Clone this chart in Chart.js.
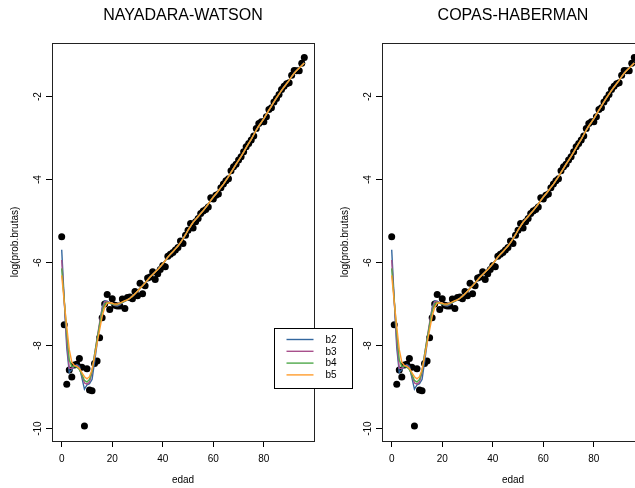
<!DOCTYPE html>
<html><head><meta charset="utf-8">
<script src="https://cdn.jsdelivr.net/npm/chart.js@4.4.0/dist/chart.umd.min.js"></script>
<style>
html,body{margin:0;padding:0;background:#fff;overflow:hidden;width:635px;height:488px;}
#wrap{position:relative;width:635px;height:488px;overflow:hidden;background:#fff;}
canvas{position:absolute;top:0;}
#c1{left:0;z-index:2;}
#c2{left:330px;z-index:1;}
</style></head><body>
<div id="wrap"><canvas id="c1" width="366" height="488"></canvas><canvas id="c2" width="366" height="488"></canvas></div>
<script>
// ---- data ----
const panelTitles = ['NAYADARA-WATSON', 'COPAS-HABERMAN'];
const xTicks = [0, 20, 40, 60, 80];
const yTicks = [-10, -8, -6, -4, -2];
const seriesNames = ['b2', 'b3', 'b4', 'b5'];
const seriesColors = ['#33679e', '#a8508c', '#4fa84a', '#ff9d2e'];

const ages = [0,1,2,3,4,5,6,7,8,9,10,11,12,13,14,15,16,17,18,19,20,21,22,23,24,25,26,27,28,29,30,31,32,33,34,35,36,37,38,39,40,41,42,43,44,45,46,47,48,49,50,51,52,53,54,55,56,57,58,59,60,61,62,63,64,65,66,67,68,69,70,71,72,73,74,75,76,77,78,79,80,81,82,83,84,85,86,87,88,89,90,91,92,93,94,95,96];

const logProbBrutas = [-5.38,-7.50,-8.93,-8.59,-8.76,-8.47,-8.45,-8.31,-8.52,-9.94,
  -8.56,-9.07,-9.09,-8.43,-8.37,-7.81,-7.33,-7.00,-6.77,-7.13,
  -6.87,-7.03,-7.05,-7.05,-6.88,-7.11,-6.84,-6.83,-6.87,-6.70,
  -6.80,-6.50,-6.75,-6.56,-6.37,-6.35,-6.22,-6.41,-6.27,-6.17,
  -6.07,-6.10,-5.85,-5.80,-5.76,-5.70,-5.64,-5.48,-5.54,-5.34,
  -5.22,-5.06,-5.17,-5.02,-4.94,-4.82,-4.76,-4.72,-4.66,-4.44,
  -4.47,-4.38,-4.35,-4.20,-4.11,-4.03,-3.98,-3.79,-3.69,-3.63,
  -3.53,-3.45,-3.33,-3.21,-3.13,-3.05,-2.95,-2.77,-2.65,-2.61,
  -2.61,-2.49,-2.31,-2.27,-2.13,-2.05,-1.95,-1.83,-1.75,-1.69,
  -1.67,-1.49,-1.37,-1.38,-1.38,-1.20,-1.06];

// smoothed curves, ages 0..25 (where they differ)
const b2Young = [-5.69,-6.90,-8.05,-8.65,-8.58,-8.50,-8.46,-8.50,-8.78,-9.05,-8.95,-8.92,-8.82,-8.40,-7.95,-7.50,-7.08,-6.92,-6.93,-6.97,-7.00,-7.04,-7.05,-7.02,-6.96,-6.93];
const b3Young = [-5.94,-6.92,-7.90,-8.55,-8.55,-8.49,-8.48,-8.55,-8.72,-8.90,-8.93,-8.88,-8.66,-8.22,-7.82,-7.45,-7.12,-6.95,-6.94,-6.98,-7.00,-7.03,-7.03,-7.00,-6.96,-6.93];
const b4Young = [-6.14,-6.90,-7.70,-8.35,-8.50,-8.50,-8.52,-8.58,-8.70,-8.84,-8.88,-8.82,-8.62,-8.22,-7.85,-7.50,-7.18,-7.00,-6.96,-6.98,-7.00,-7.02,-7.02,-6.99,-6.96,-6.93];
const b5Young = [-6.31,-6.95,-7.55,-8.10,-8.40,-8.48,-8.50,-8.55,-8.65,-8.75,-8.80,-8.75,-8.58,-8.28,-7.95,-7.62,-7.30,-7.08,-6.98,-6.97,-6.98,-7.00,-7.00,-6.98,-6.95,-6.92];
// ages 26..96 (all four curves coincide)
const curvesOld = [-6.90,-6.86,-6.81,-6.75,-6.69,-6.62,-6.56,-6.49,-6.42,-6.35,
  -6.29,-6.23,-6.17,-6.10,-6.03,-5.95,-5.87,-5.80,-5.74,-5.67,
  -5.60,-5.52,-5.43,-5.33,-5.22,-5.12,-5.03,-4.96,-4.89,-4.82,
  -4.75,-4.67,-4.59,-4.50,-4.42,-4.35,-4.27,-4.19,-4.11,-4.02,
  -3.93,-3.83,-3.73,-3.63,-3.54,-3.44,-3.34,-3.23,-3.13,-3.03,
  -2.92,-2.81,-2.71,-2.62,-2.53,-2.43,-2.33,-2.23,-2.13,-2.03,
  -1.94,-1.85,-1.77,-1.69,-1.61,-1.52,-1.44,-1.37,-1.31,-1.25,-1.19];

const xRange = [-3.84, 99.84];
const yRange = [-10.30, -0.71];

// ---- chart construction ----
const FONT = "'Liberation Sans', Arial, Helvetica, sans-serif";
Chart.defaults.color = '#000';
Chart.defaults.font.family = FONT;

const youngSets = [b2Young, b3Young, b4Young, b5Young];

const framePlugin = {
  id: 'frame',
  afterDatasetsDraw(chart) {
    const {ctx, chartArea: a} = chart;
    ctx.save();
    ctx.strokeStyle = '#222';
    ctx.lineWidth = 1;
    const l = Math.round(a.left) + 0.5, t = Math.round(a.top) + 0.5;
    ctx.strokeRect(l, t, Math.round(a.right) - Math.round(a.left), Math.round(a.bottom) - Math.round(a.top));
    ctx.restore();
  }
};

const boxLegendPlugin = {
  id: 'boxLegend',
  afterDraw(chart, args, opts) {
    if (!opts || !opts.show) return;
    const {ctx, chartArea: a} = chart;
    const L = Math.round(a.right) - 40 + 0.5, T = Math.round(a.top) + 285 + 0.5;
    const W = 78, H = 60;
    ctx.save();
    ctx.fillStyle = '#fff';
    ctx.fillRect(L, T, W, H);
    ctx.strokeStyle = '#000';
    ctx.lineWidth = 1;
    ctx.strokeRect(L, T, W, H);
    ctx.font = '10px ' + FONT;
    ctx.textBaseline = 'middle';
    ctx.textAlign = 'left';
    seriesNames.forEach((name, i) => {
      const y = T + 11 + i * 11.8;
      ctx.strokeStyle = seriesColors[i];
      ctx.lineWidth = 1.4;
      ctx.beginPath();
      ctx.moveTo(L + 12, y);
      ctx.lineTo(L + 39, y);
      ctx.stroke();
      ctx.fillStyle = '#000';
      ctx.fillText(name, L + 51, y + 0.5);
    });
    ctx.restore();
  }
};

function makeChart(id, title, withLegend) {
  const datasets = [];
  datasets.push({
    type: 'scatter',
    label: 'log(prob.brutas)',
    data: ages.map((a, i) => ({x: a, y: logProbBrutas[i]})),
    pointRadius: 3.5,
    pointBackgroundColor: '#000',
    pointBorderWidth: 0,
    showLine: false,
    order: 5
  });
  seriesNames.forEach((name, s) => {
    const vals = youngSets[s].concat(curvesOld);
    datasets.push({
      type: 'line',
      label: name,
      data: ages.map((a, i) => ({x: a, y: vals[i]})),
      borderColor: seriesColors[s],
      backgroundColor: seriesColors[s],
      borderWidth: 1.4,
      pointRadius: 0,
      tension: 0,
      fill: false,
      order: 4 - s
    });
  });
  const tickFont = {size: 10, family: FONT};
  const axisGrid = {display: true, drawOnChartArea: false, drawTicks: true, tickLength: 6, color: '#000', lineWidth: 1};
  return new Chart(document.getElementById(id), {
    type: 'line',
    data: {datasets},
    plugins: [framePlugin, boxLegendPlugin],
    options: {
      responsive: false,
      animation: false,
      devicePixelRatio: 1,
      layout: {padding: 0},
      plugins: {
        legend: {display: false},
        tooltip: {enabled: false},
        title: {display: true, text: title, color: '#000', font: {size: 16, family: FONT, weight: 'normal'}, padding: {top: 6, bottom: 17.8}},
        boxLegend: {show: withLegend}
      },
      scales: {
        x: {
          type: 'linear', position: 'bottom', min: xRange[0], max: xRange[1],
          afterBuildTicks: s => { s.ticks = xTicks.map(v => ({value: v})); },
          afterFit: s => { s.height = 47; },
          ticks: {font: tickFont, color: '#000', padding: 6, minRotation: 0, maxRotation: 0, autoSkip: false},
          grid: axisGrid,
          border: {display: false},
          title: {display: true, text: 'edad', color: '#000', font: tickFont, padding: {top: 0, bottom: 2}}
        },
        y: {
          type: 'linear', position: 'left', min: yRange[0], max: yRange[1],
          afterBuildTicks: s => { s.ticks = yTicks.map(v => ({value: v})); },
          afterFit: s => { s.width = 52; },
          ticks: {font: tickFont, color: '#000', padding: 0.5, minRotation: 90, maxRotation: 90, crossAlign: 'center', autoSkip: false},
          grid: axisGrid,
          border: {display: false},
          title: {display: true, text: 'log(prob.brutas)', color: '#000', font: tickFont, padding: {top: 9, bottom: 0}}
        },
        yR: {
          type: 'linear', position: 'right', display: true,
          afterFit: s => { s.width = 52; },
          ticks: {display: false},
          grid: {display: false},
          border: {display: false}
        }
      }
    }
  });
}

makeChart('c1', panelTitles[0], true);
makeChart('c2', panelTitles[1], false);
</script>
</body></html>
